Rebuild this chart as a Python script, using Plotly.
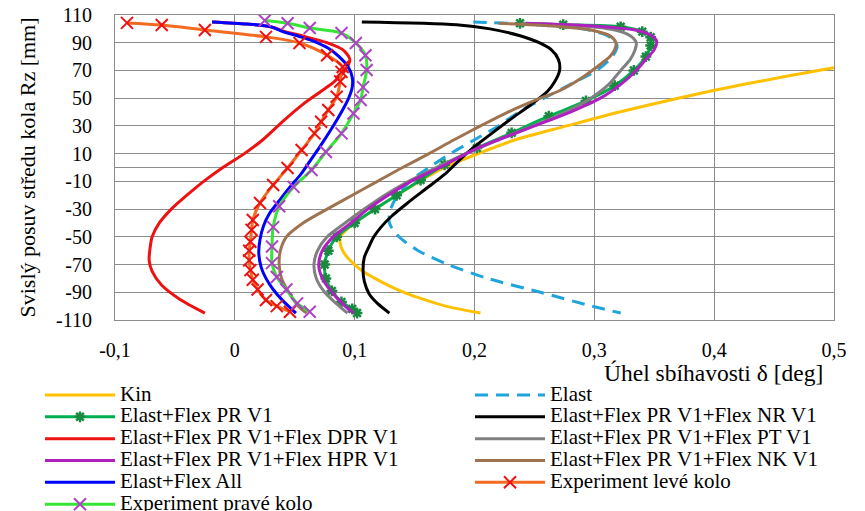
import plotly.graph_objects as go

# ---------------- data (delta [deg], Rz [mm]) ----------------
kin_rz = [-105, -100, -95, -90, -85, -80, -75, -70, -65, -60, -55, -50, -40, -30, -20, -10, 0, 10, 20, 30, 40, 50, 60, 70, 80, 90, 100, 105]
kin_d = [0.205, 0.176, 0.157, 0.141, 0.128, 0.117, 0.107, 0.100, 0.094, 0.090, 0.088, 0.088, 0.100, 0.117, 0.135, 0.154, 0.175, 0.203, 0.234, 0.277, 0.321, 0.370, 0.425, 0.487, 0.555, 0.630, 0.710, 0.750]

elast_rz = [105, 103, 100, 95, 88, 80, 70, 60, 50, 40, 30, 20, 10, 0, -10, -20, -30, -40, -50, -60, -70, -80, -90, -100, -105]
elast_d = [0.199, 0.250, 0.290, 0.311, 0.319, 0.315, 0.302, 0.280, 0.258, 0.237, 0.220, 0.200, 0.180, 0.162, 0.146, 0.136, 0.130, 0.129, 0.137, 0.153, 0.178, 0.211, 0.255, 0.298, 0.322]

prv1_rz = [104, 103, 101.5, 98, 94, 88, 80, 70, 59, 48, 37, 25, 14, 2, -9, -20, -30, -40, -50, -60, -70, -80, -89, -97, -102, -105]
prv1_d = [0.238, 0.274, 0.322, 0.340, 0.347, 0.347, 0.343, 0.333, 0.317, 0.293, 0.262, 0.231, 0.202, 0.175, 0.155, 0.135, 0.117, 0.100, 0.085, 0.078, 0.075, 0.076, 0.081, 0.089, 0.098, 0.102]

nr_rz = [105, 103, 100, 95, 90, 85, 78, 70, 62, 55, 44, 36, 25, 15, 5, -5, -15, -25, -35, -43, -50, -57, -65, -74, -82, -91, -98, -105]
nr_d = [0.106, 0.185, 0.213, 0.238, 0.254, 0.264, 0.270, 0.271, 0.267, 0.261, 0.245, 0.232, 0.215, 0.200, 0.187, 0.175, 0.160, 0.145, 0.131, 0.122, 0.116, 0.112, 0.108, 0.107, 0.108, 0.112, 0.119, 0.129]

dpr_rz = [105, 103.5, 101.5, 98, 95, 90, 85, 78, 70, 62, 55, 45, 34, 20, 10, 0, -10, -20, -30, -40, -50, -60, -67, -75, -85, -95, -105]
dpr_d = [-0.019, 0.010, 0.030, 0.042, 0.056, 0.077, 0.090, 0.096, 0.092, 0.083, 0.072, 0.056, 0.041, 0.0234, 0.008, -0.010, -0.026, -0.040, -0.053, -0.063, -0.069, -0.071, -0.0715, -0.069, -0.061, -0.046, -0.025]

pt_rz = [104, 102, 99, 95, 90, 85, 78, 70, 60, 50, 40, 30, 20, 10, 0, -10, -20, -30, -40, -50, -60, -70, -80, -90, -100, -105]
pt_d = [0.240, 0.290, 0.318, 0.330, 0.335, 0.334, 0.330, 0.322, 0.312, 0.297, 0.276, 0.249, 0.220, 0.193, 0.168, 0.145, 0.125, 0.108, 0.092, 0.077, 0.069, 0.066, 0.068, 0.075, 0.087, 0.094]

hpr_rz = [104, 102, 99, 95, 91, 85, 78, 70, 60, 50, 40, 30, 20, 12.6, 0, -10, -20, -30, -40, -50, -60, -70, -80, -90, -100, -105]
hpr_d = [0.243, 0.300, 0.335, 0.348, 0.352, 0.350, 0.343, 0.335, 0.322, 0.305, 0.280, 0.250, 0.220, 0.199, 0.171, 0.147, 0.128, 0.111, 0.097, 0.082, 0.073, 0.070, 0.073, 0.081, 0.092, 0.099]

nk_rz = [104, 102, 99, 95, 90, 85, 80, 75, 65, 55, 50, 40, 30, 20, 10, 0, -10, -20, -30, -40, -50, -60, -70, -80, -90, -100, -105]
nk_d = [0.220, 0.265, 0.298, 0.313, 0.318, 0.317, 0.313, 0.306, 0.290, 0.270, 0.255, 0.228, 0.205, 0.183, 0.162, 0.140, 0.119, 0.098, 0.077, 0.057, 0.043, 0.038, 0.037, 0.039, 0.045, 0.053, 0.060]

all_rz = [105, 103.5, 101.5, 98, 95, 91, 86, 80, 72, 65, 58, 50, 40, 27, 15, 5, -5, -14, -24, -33, -42, -52, -62, -72, -80, -88, -96, -105]
all_d = [-0.019, 0.010, 0.030, 0.040, 0.052, 0.066, 0.078, 0.087, 0.095, 0.098, 0.098, 0.095, 0.089, 0.080, 0.071, 0.063, 0.055, 0.046, 0.037, 0.029, 0.024, 0.021, 0.020, 0.022, 0.026, 0.032, 0.040, 0.051]

levy_rz = [104.3, 102.8, 99.2, 94.2, 89.8, 81, 72.5, 69, 62, 51, 41.5, 33, 24.6, 12.6, -0.4, -12.6, -25.6, -37.9, -45, -53.5, -60, -67, -74, -81, -88, -95.6, -100, -104]
levy_d = [-0.090, -0.061, -0.025, 0.026, 0.054, 0.077, 0.090, 0.089, 0.088, 0.085, 0.078, 0.072, 0.0665, 0.0557, 0.044, 0.032, 0.021, 0.015, 0.014, 0.013, 0.012, 0.012, 0.013, 0.015, 0.019, 0.026, 0.035, 0.046]

pravy_rz = [106, 104, 100.6, 97, 89.8, 81, 70.3, 58, 48.7, 39, 24.6, 11.2, -1.8, -14, -28, -43, -57, -69, -79, -88, -98, -104]
pravy_d = [0.025, 0.044, 0.0625, 0.089, 0.101, 0.109, 0.110, 0.107, 0.105, 0.099, 0.089, 0.076, 0.064, 0.049, 0.037, 0.032, 0.031, 0.031, 0.035, 0.043, 0.052, 0.0625]

y_ticks = [-110, -90, -70, -50, -30, -10, 10, 30, 50, 70, 90, 110]
y_tick_labels = ["-110", "-90", "-70", "-50", "-30", "-10", "10", "30", "50", "70", "90", "110"]
x_ticks = [-0.1, 0.0, 0.1, 0.2, 0.3, 0.4, 0.5]
x_tick_labels = ["-0,1", "0", "0,1", "0,2", "0,3", "0,4", "0,5"]

FONT = "Liberation Serif"
LEG_SIZE = 21


def lab(t):
    return f'<span style="font-size:{LEG_SIZE}px">{t}</span>'


fig = go.Figure()


def add(name, d, rz, color, width=3, dash=None, legend="legend", marker=None):
    mode = "lines+markers" if marker else "lines"
    kw = dict(x=d, y=rz, mode=mode, name=lab(name), legend=legend,
              line=dict(color=color, width=width, shape="spline", smoothing=0.8))
    if dash:
        kw["line"]["dash"] = dash
    if marker:
        kw["marker"] = marker
    fig.add_trace(go.Scatter(**kw))


add("Kin", kin_d, kin_rz, "#FFC000")
add("Elast", elast_d, elast_rz, "#1FA5DC", dash="13px,8px", legend="legend2")
add("Elast+Flex PR V1", prv1_d, prv1_rz, "#00B050",
    marker=dict(symbol="asterisk-open", size=9, color="#18893F", line=dict(color="#18893F", width=2.5)))
add("Elast+Flex PR V1+Flex NR V1", nr_d, nr_rz, "#000000", legend="legend2")
add("Elast+Flex PR V1+Flex DPR V1", dpr_d, dpr_rz, "#EE1111")
add("Elast+Flex PR V1+Flex PT V1", pt_d, pt_rz, "#808080", legend="legend2")
add("Elast+Flex PR V1+Flex HPR V1", hpr_d, hpr_rz, "#B020C0")
add("Elast+Flex PR V1+Flex NK V1", nk_d, nk_rz, "#9E7350", legend="legend2")
add("Elast+Flex All", all_d, all_rz, "#0000FF")
add("Experiment levé kolo", levy_d, levy_rz, "#F26B21", legend="legend2",
    marker=dict(symbol="x-thin-open", size=12, color="#EE1111", line=dict(color="#EE1111", width=2)))
add("Experiment pravé kolo", pravy_d, pravy_rz, "#33E633",
    marker=dict(symbol="x-thin-open", size=12, color="#B040C8", line=dict(color="#B040C8", width=2)))

W, H = 865, 511
PL, PT_, PR, PB = 115, 15, 834, 320   # plot-area edges in window pixels
pw, ph = PR - PL, PB - PT_


def px(xp):
    return (xp - PL) / pw


def py(yp):
    return (PB - yp) / ph


grid = "#8C8C8C"
LEG_ROW = 14.5   # legend base font size -> row pitch of ~22 px
fig.update_layout(
    width=W, height=H,
    margin=dict(l=PL, r=W - PR, t=PT_, b=H - PB, autoexpand=False),
    paper_bgcolor="white", plot_bgcolor="white",
    font=dict(family=FONT, color="black", size=20),
    xaxis=dict(range=[-0.1, 0.5], tickvals=x_ticks, ticktext=x_tick_labels,
               showgrid=True, gridcolor=grid, gridwidth=1, zeroline=False,
               showline=True, linecolor=grid, mirror=True, ticks="",
               ticklabelstandoff=12, tickfont=dict(size=20)),
    yaxis=dict(range=[-110, 110], tickvals=y_ticks, ticktext=y_tick_labels,
               showgrid=True, gridcolor=grid, gridwidth=1,
               zeroline=True, zerolinecolor=grid, zerolinewidth=1,
               showline=True, linecolor=grid, mirror=True, ticks="",
               ticklabelstandoff=18, ticklabeloverflow="allow", tickfont=dict(size=20),
               title=dict(text="Svislý posuv středu kola Rz [mm]", font=dict(size=22), standoff=14)),
    legend=dict(x=px(40), y=py(379), xanchor="left", yanchor="top", orientation="v",
                itemwidth=70, font=dict(size=LEG_ROW, family=FONT), bgcolor="rgba(0,0,0,0)",
                tracegroupgap=0),
    legend2=dict(x=px(470), y=py(379), xanchor="left", yanchor="top", orientation="v",
                 itemwidth=70, font=dict(size=LEG_ROW, family=FONT), bgcolor="rgba(0,0,0,0)",
                 tracegroupgap=0),
    annotations=[dict(text="Úhel sbíhavosti δ [deg]", xref="paper", yref="paper",
                      x=px(713), y=py(373), xanchor="center", yanchor="middle",
                      showarrow=False, font=dict(size=23.5, family=FONT))],
    showlegend=True,
)

fig.write_html("out.html", config={"displayModeBar": False},
               post_script="document.body.style.margin='0px';")
